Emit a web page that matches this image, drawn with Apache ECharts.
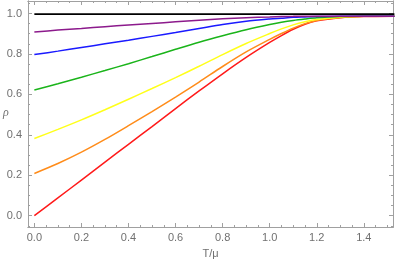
<!DOCTYPE html>
<html><head><meta charset="utf-8">
<script src="https://cdn.jsdelivr.net/npm/echarts@6/dist/echarts.min.js"></script>
<style>html,body{margin:0;padding:0;background:#fff}#c{width:395px;height:259px}</style>
</head><body><div id="c"></div>
<script>
const T = [0, 0.1, 0.2, 0.3, 0.4, 0.5, 0.6, 0.7, 0.8, 0.9, 1.0, 1.05, 1.1, 1.15, 1.2, 1.3, 1.4, 1.53];
const red    = [0, 0.088, 0.176, 0.265, 0.353, 0.441, 0.53, 0.617, 0.702, 0.783, 0.857, 0.891, 0.922, 0.947, 0.964, 0.979, 0.985, 0.987];
const orange = [0.209, 0.258, 0.314, 0.377, 0.445, 0.515, 0.587, 0.661, 0.738, 0.810, 0.872, 0.901, 0.928, 0.950, 0.966, 0.980, 0.986, 0.987];
const yellow = [0.382, 0.427, 0.474, 0.524, 0.576, 0.629, 0.683, 0.739, 0.797, 0.852, 0.901, 0.924, 0.944, 0.959, 0.970, 0.982, 0.986, 0.987];
const green  = [0.622, 0.653, 0.685, 0.718, 0.752, 0.787, 0.823, 0.858, 0.89, 0.92, 0.946, 0.957, 0.966, 0.973, 0.979, 0.985, 0.987, 0.987];
const blue   = [0.797, 0.814, 0.832, 0.85, 0.868, 0.887, 0.906, 0.926, 0.946, 0.962, 0.973, 0.977, 0.981, 0.983, 0.985, 0.987, 0.987, 0.987];
const purple = [0.909, 0.918, 0.926, 0.935, 0.943, 0.951, 0.959, 0.967, 0.974, 0.979, 0.983, 0.985, 0.986, 0.987, 0.987, 0.987, 0.987, 0.987];
const blackT = [0, 1.53];
const black  = [0.997, 0.997];
const xMajor = [0, 0.2, 0.4, 0.6, 0.8, 1.0, 1.2, 1.4];
const yMajor = [0, 0.2, 0.4, 0.6, 0.8, 1.0];
const xMinor = [0.05,0.1,0.15,0.25,0.3,0.35,0.45,0.5,0.55,0.65,0.7,0.75,0.85,0.9,0.95,1.05,1.1,1.15,1.25,1.3,1.35,1.45,1.5];
const yMinor = [-0.05,0.05,0.1,0.15,0.25,0.3,0.35,0.45,0.5,0.55,0.65,0.7,0.75,0.85,0.9,0.95,1.05];

const XMIN=-0.027, XMAX=1.524, YMIN=-0.056, YMAX=1.062;
const frame = '#a0a0a0';
function xa(pos, vals, len, labels, extra){
  return Object.assign({type:'value', position:pos, min:XMIN, max:XMAX,
    axisLine:{show:true, onZero:false, lineStyle:{color:frame, width:1}},
    splitLine:{show:false},
    axisTick:{show:true, inside:true, length:len, customValues:vals, lineStyle:{color:frame}},
    axisLabel:{show:labels, customValues:vals, formatter:v=>v.toFixed(1), color:'#707070', fontSize:11, fontFamily:'Liberation Sans, Arial', margin:5}
  }, extra||{});
}
function ya(pos, vals, len, labels, extra){
  return Object.assign({type:'value', position:pos, min:YMIN, max:YMAX,
    axisLine:{show:true, onZero:false, lineStyle:{color:frame, width:1}},
    splitLine:{show:false},
    axisTick:{show:true, inside:true, length:len, customValues:vals, lineStyle:{color:frame}},
    axisLabel:{show:labels, customValues:vals, formatter:v=>v.toFixed(1), color:'#707070', fontSize:11, fontFamily:'Liberation Sans, Arial', margin:6}
  }, extra||{});
}
const z = (xs, ys) => xs.map((x,i)=>[x, ys[i]]);
const mk = (d, c, w) => ({type:'line', data:d, xAxisIndex:0, yAxisIndex:0, showSymbol:false, smooth:0.3, lineStyle:{color:c, width:w||1.5}, itemStyle:{color:c}, animation:false, silent:true});

const chart = echarts.init(document.getElementById('c'), null, {renderer:'canvas'});
chart.setOption({
  animation:false,
  grid:{left:28, right:2, top:1, bottom:32, containLabel:false, outerBoundsMode:'none'},
  graphic:[
    {type:'text', left:3, top:107, style:{text:'\u03c1', fill:'#707070', font:'italic 12px "Liberation Serif", serif'}}
  ],
  xAxis:[
    xa('bottom', xMajor, 4, true, {name:'T/\u03bc', nameLocation:'middle', nameGap:21, nameTextStyle:{color:'#707070', fontSize:11, fontFamily:'Liberation Sans, Arial'}}),
    xa('bottom', xMinor, 2, false),
    xa('top', xMajor, 4, false),
    xa('top', xMinor, 2, false)
  ],
  yAxis:[
    ya('left', yMajor, 4, true),
    ya('left', yMinor, 2, false),
    ya('right', yMajor, 4, false),
    ya('right', yMinor, 2, false)
  ],
  series:[
    mk(z(T, red), '#ff1a1a'),
    mk(z(T, orange), '#ff8c1a'),
    mk(z(T, yellow), '#ffff1a'),
    mk(z(T, green), '#1ab41a'),
    mk(z(T, blue), '#1a1aff'),
    mk(z(T, purple), '#8c1a8c'),
    mk(z(blackT, black), '#000000', 1.8)
  ]
});
</script></body></html>
